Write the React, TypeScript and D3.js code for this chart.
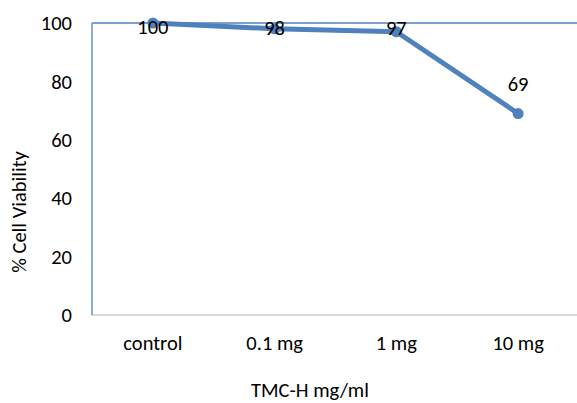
import React from 'react';
import * as d3 from 'd3';

const categories = ['control', '0.1 mg', '1 mg', '10 mg'];
const viability = [100, 98, 97, 69];
const yTicks = [0, 20, 40, 60, 80, 100];
// vertical nudge of each data label relative to its point (px)
const labelNudge = [4, -1, -4, -30];

const W = 577;
const H = 403;
const margin = { left: 92, top: 23, right: -2, bottom: 88 };
const FONT = 'Carlito, Calibri, Lato, "Liberation Sans", sans-serif';
const FS = 20.5;
const BLUE = '#4F81BD';

const App: React.FC = () => {
  const x = d3.scaleBand<string>()
    .domain(categories)
    .range([margin.left, W - margin.right]);
  const y = d3.scaleLinear()
    .domain([0, 100])
    .range([H - margin.bottom, margin.top]);

  const pts = categories.map((c, i) => [x(c)! + x.bandwidth() / 2, y(viability[i])] as [number, number]);
  const line = d3.line()(pts) || '';

  return (
    <svg width={W} height={H} style={{ position: 'absolute', left: 0, top: 0, background: '#fff' }}>
      {/* top gridline at 100 */}
      <line x1={margin.left} x2={W} y1={y(100)} y2={y(100)} stroke={BLUE} strokeWidth={1.3} />
      {/* x axis */}
      <line x1={margin.left} x2={W} y1={y(0)} y2={y(0)} stroke="#C8CDD3" strokeWidth={1.3} />
      {/* y axis */}
      <line x1={margin.left} x2={margin.left} y1={y(100)} y2={y(0)} stroke={BLUE} strokeWidth={1.3} />

      {yTicks.map(t => (
        <text key={t} x={72} y={y(t)} dy="0.35em" textAnchor="end" fontFamily={FONT} fontSize={FS} fill="#000">{t}</text>
      ))}
      {categories.map(c => (
        <text key={c} x={x(c)! + x.bandwidth() / 2} y={350} textAnchor="middle" fontFamily={FONT} fontSize={FS} fill="#000">{c}</text>
      ))}

      <path d={line} fill="none" stroke={BLUE} strokeWidth={5} strokeLinejoin="round" />
      {pts.map((p, i) => (
        <circle key={i} cx={p[0]} cy={p[1]} r={5.5} fill={BLUE} />
      ))}
      {pts.map((p, i) => (
        <text key={'l' + i} x={p[0]} y={p[1] + labelNudge[i]} dy="0.35em" textAnchor="middle" fontFamily={FONT} fontSize={FS} fill="#000">
          {viability[i]}
        </text>
      ))}

      <text x={310} y={397} textAnchor="middle" fontFamily={FONT} fontSize={FS} fill="#000">TMC-H mg/ml</text>
      <text transform={`translate(26,${(y(0) + y(100)) / 2 + 43}) rotate(-90)`} textAnchor="middle" fontFamily={FONT} fontSize={FS} fill="#000">% Cell Viability</text>
    </svg>
  );
};

export default App;
